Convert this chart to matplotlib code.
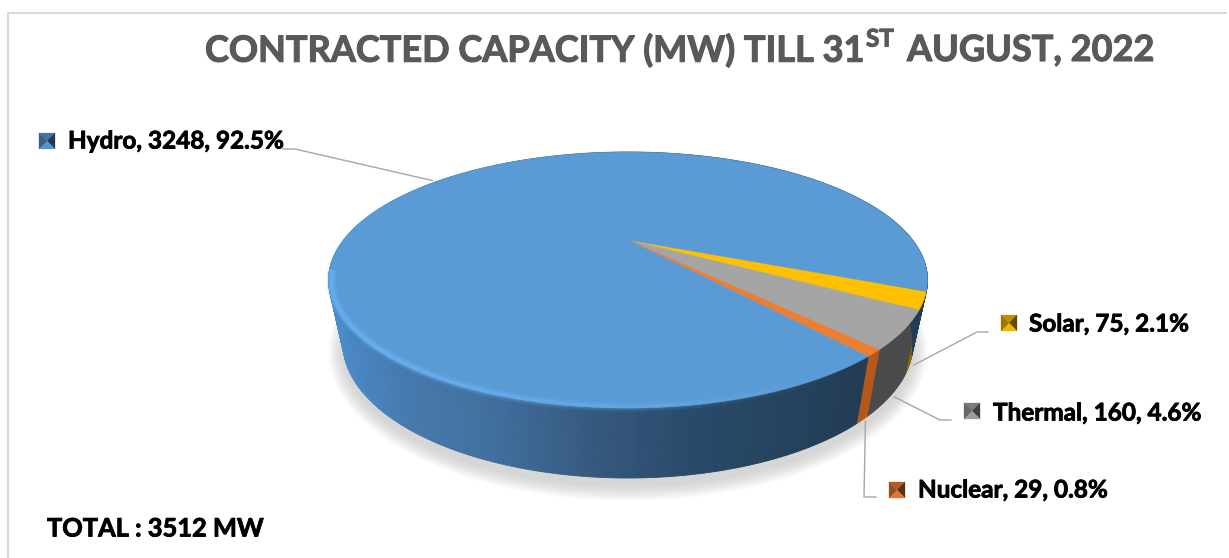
import matplotlib
matplotlib.use('Agg')
import matplotlib.pyplot as plt
import matplotlib.patheffects as pe
from matplotlib.collections import LineCollection
from matplotlib.colors import to_rgb
import numpy as np

names = ['Solar', 'Thermal', 'Nuclear', 'Hydro']
values = [75, 160, 29, 3248]
face_colors = ['#ffc000', '#a5a5a5', '#ed7d31', '#5b9bd5']
side_colors = ['#8a6d00', '#4a4a4a', '#b4581a', None]
title_parts = ['CONTRACTED CAPACITY (MW) TILL 31', 'ST', 'AUGUST, 2022']
total_text = 'TOTAL : 3512 MW'

plt.rcParams['font.family'] = ['Lato', 'DejaVu Sans']

W, H = 1229, 558
fig = plt.figure(figsize=(W / 100, H / 100), dpi=100)
ax = fig.add_axes([0, 0, 1, 1])
ax.set_xlim(0, W)
ax.set_ylim(H, 0)
ax.axis('off')

# pie geometry in pixels
top = (628, 280, 299.5, 128)
bottom = (628, 343, 285, 135)
E = -0.3125
START = 23.0


def rim(theta, ell, grow=1.0):
    # circle -> ellipse with the pie centre pushed back (perspective)
    th = np.radians(theta)
    u, v = np.cos(th), np.sin(th)
    den = 1 + E * v
    up = np.sqrt(1 - E ** 2) * u / den
    vp = (v + E) / den
    return ell[0] + ell[2] * up * grow, ell[1] + ell[3] * vp * grow


total = sum(values)
angles = [START]
for val in values:
    angles.append(angles[-1] + val / total * 360)
mids = [(angles[i] + angles[i + 1]) / 2 for i in range(len(values))]

heavy = [pe.withStroke(linewidth=0.6, foreground='black')]
heavy_title = [pe.withStroke(linewidth=0.8, foreground='#595959')]

# frame
ax.plot([8, 8, W - 3], [H, 12.5, 12.5], color='#d9d9d9', lw=1.5, solid_joinstyle='miter')

# soft shadow under the pie
tt = np.linspace(0, 2 * np.pi, 300)
for k in range(16):
    ax.fill(bottom[0] + (bottom[2] + 15 - k) * np.cos(tt),
            bottom[1] + 8 + (bottom[3] + 15 - k) * np.sin(tt),
            color='#808080', alpha=0.02, lw=0)

# side wall
grad_x = [325, 400, 480, 600, 700, 860]
grad_c = np.array([to_rgb(c) for c in ['#4c8ccb', '#4679ad', '#41719f', '#34577c', '#284a68', '#223c54']])
for i in range(len(values)):
    th = np.linspace(angles[i], angles[i + 1], max(3, int((angles[i + 1] - angles[i]) * 2)))
    for a, b in zip(th[:-1], th[1:]):
        xa, ya = rim(a, top)
        xb, yb = rim(b, top)
        xc, yc = rim(b, bottom)
        xd, yd = rim(a, bottom)
        if side_colors[i] is None:
            col = [np.interp((xa + xb) / 2, grad_x, grad_c[:, ch]) for ch in range(3)]
        else:
            col = side_colors[i]
        ax.fill([xa, xb, xc, xd], [ya, yb, yc, yd], color=col, lw=0.6)

# top face
apex = (top[0], top[1] + E * top[3])
for i in range(len(values)):
    th = np.linspace(angles[i], angles[i + 1], max(3, int(angles[i + 1] - angles[i]) * 2))
    xs, ys = rim(th, top)
    ax.fill(np.r_[apex[0], xs], np.r_[apex[1], ys], color=face_colors[i], lw=0.3)

# light bevel along the front left rim
th = np.linspace(angles[3], angles[4], 500)
xs, ys = rim(th, top, 0.99)
segs = np.stack([np.c_[xs[:-1], ys[:-1]], np.c_[xs[1:], ys[1:]]], axis=1)
vis = np.clip((860 - xs[:-1]) / 450, 0, 1) * (ys[:-1] > 270)
for lw, al in [(7, 0.22), (4.5, 0.35), (2.5, 0.7)]:
    rgba = np.zeros((len(segs), 4))
    rgba[:, :3] = to_rgb('#69b1f2')
    rgba[:, 3] = vis * al
    ax.add_collection(LineCollection(segs, colors=rgba, linewidths=lw))

# leader lines and labels, leader foot comes from the wedge middle
label_pos = [(1029, 324), (993, 413), (918, 490), (68, 141)]
elbow = [[(977, 332), (988, 332)], [(940, 420), (951, 420)], [(864, 497), (876, 497)], [(295, 149), (283, 149)]]
key_pos = [(1001, 315), (964, 403), (889, 482), (39, 133)]
key_col = ['#ffc000', '#a5a5a5', '#ed7d31', '#5b9bd5']
for i, name in enumerate(names):
    ell = top if name == 'Hydro' else bottom
    fx, fy = rim(mids[i], ell, 1.015)
    px = [fx] + [p[0] for p in elbow[i]]
    py = [fy] + [p[1] for p in elbow[i]]
    ax.plot(px, py, color='#a6a6a6', lw=1.0)
    ax.text(label_pos[i][0], label_pos[i][1],
            '%s, %d, %.1f%%' % (name, values[i], values[i] / total * 100),
            fontsize=17.5, fontweight='bold', color='black', va='center', ha='left', path_effects=heavy)
    # pyramid shaped legend key
    kx, ky = key_pos[i]
    s = 16
    c = np.array(to_rgb(key_col[i]))
    cx, cy = kx + s / 2, ky + s / 2
    tris = [([kx, kx + s, cx], [ky, ky, cy], 0.75), ([kx + s, kx + s, cx], [ky, ky + s, cy], 0.38),
            ([kx, kx + s, cx], [ky + s, ky + s, cy], 0.95), ([kx, kx, cx], [ky, ky + s, cy], 0.62)]
    for tx, ty, f in tris:
        ax.fill(tx, ty, color=c * f, lw=0.2)

# title with raised ST
title_x = [205, 866, 907]
title_y = [50.5, 39, 50.5]
title_size = [26.0, 17.5, 26.0]
for part, x, y, fs in zip(title_parts, title_x, title_y, title_size):
    ax.text(x, y, part, fontsize=fs, fontweight='bold', color='#595959', va='center', ha='left',
            path_effects=heavy_title)

ax.text(47, 529, total_text, fontsize=18.3, fontweight='bold', color='black', va='center', ha='left',
        path_effects=heavy)

fig.savefig('out.png', dpi=100)
